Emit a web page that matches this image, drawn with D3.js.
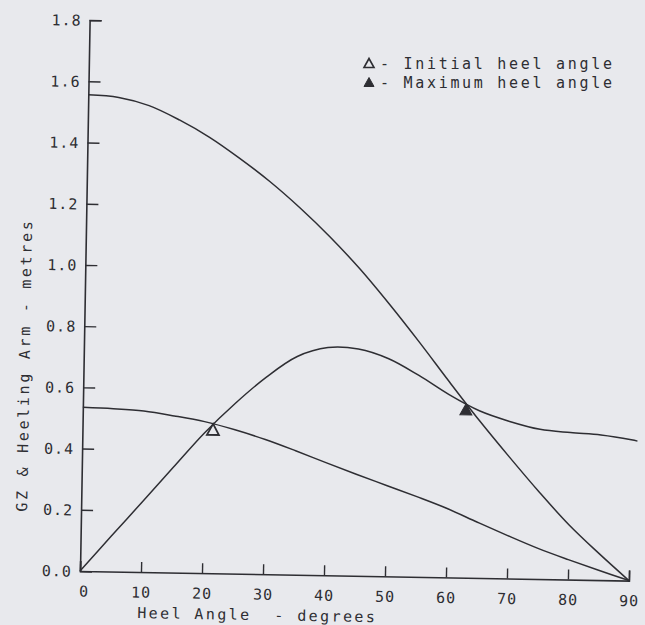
<!DOCTYPE html>
<html><head><meta charset="utf-8">
<script src="https://cdn.jsdelivr.net/npm/d3@7"></script>
<style>html,body{margin:0;padding:0;background:#e8e9ed;} svg{display:block}</style>
</head><body><svg id="c" width="645" height="625"></svg>
<script>
// ---- data ----
const heelAngles   = [0,5,10,15,20,25,30,35,40,45,50,55,60,65,70,75,80,85,90];
const heelArmHigh  = [1.556,1.549,1.524,1.479,1.424,1.357,1.283,1.199,1.106,1.003,0.888,0.766,0.639,0.515,0.398,0.285,0.179,0.087,0];
const heelArmLow   = [0.535,0.532,0.526,0.512,0.495,0.47,0.44,0.405,0.368,0.332,0.297,0.262,0.225,0.182,0.14,0.1,0.065,0.032,0];
const gzAngles     = [0,5,10,15,20,25,30,35,40,45,50,55,60,65,70,75,80,85,90,91];
const gzValues     = [0,0.115,0.229,0.344,0.458,0.557,0.644,0.713,0.744,0.741,0.711,0.658,0.597,0.546,0.513,0.489,0.480,0.474,0.460,0.456];
const initialHeel  = [21.4, 0.488];
const maximumHeel  = [62.8, 0.568];
const xTickValues  = [0,10,20,30,40,50,60,70,80,90];
const yTickValues  = [0,0.2,0.4,0.6,0.8,1.0,1.2,1.4,1.6,1.8];
const legendLabels = ["- Initial heel angle","- Maximum heel angle"];
const xTitle = "Heel Angle  - degrees";
const yTitle = "GZ & Heeling Arm - metres";

// ---- layout ----
const ox = 80, oy = 571;
const x = d3.scaleLinear().domain([0,90]).range([ox, 629]);
const y = d3.scaleLinear().domain([0,1.8]).range([oy, 20]);
const ink = "#2e2e33";
const font = "'DejaVu Sans Mono', 'Liberation Mono', monospace";

const svg = d3.select("#c");
const g = svg.append("g").attr("transform", `rotate(1,${ox},${oy})`);

// axes
const xAxis = d3.axisBottom(x).tickValues(xTickValues).tickSize(-10).tickPadding(12).tickFormat(d3.format("d"));
const yAxis = d3.axisLeft(y).tickValues(yTickValues).tickSize(-12).tickPadding(8).tickFormat(d3.format(".1f"));
const gx = g.append("g").attr("transform", `translate(0,${oy})`).call(xAxis);
const gy = g.append("g").attr("transform", `translate(${ox},0)`).call(yAxis);
[gx, gy].forEach(a => {
  a.select(".domain").attr("stroke", ink).attr("stroke-width", 1.6);
  a.selectAll(".tick line").attr("stroke", ink).attr("stroke-width", 1.4);
  a.selectAll(".tick text").attr("fill", ink).attr("font-family", font)
    .attr("font-size", 15).attr("letter-spacing", "1px");
});
gx.selectAll(".tick text").attr("dy", "0.9em").attr("dx", d => d === 0 ? 4 : 0);
gy.selectAll(".tick text").attr("dy", "0.35em");

// curves
const line = d3.line().curve(d3.curveCatmullRom.alpha(0.5)).x(d => x(d[0])).y(d => y(d[1]));
const series = [
  heelAngles.map((a,i) => [a, heelArmHigh[i]]),
  heelAngles.map((a,i) => [a, heelArmLow[i]]),
  gzAngles.map((a,i) => [a, gzValues[i]])
];
g.selectAll("path.curve").data(series).join("path").attr("class","curve")
  .attr("d", line).attr("fill","none").attr("stroke", ink).attr("stroke-width", 1.5);

// triangle markers (apex at intersection)
const tri = (cx, cy, w, h) => `M${cx},${cy} L${cx - w/2},${cy + h} L${cx + w/2},${cy + h} Z`;
g.append("path").attr("d", tri(x(initialHeel[0]), y(initialHeel[1]), 12, 11))
  .attr("fill","none").attr("stroke", ink).attr("stroke-width", 1.8).attr("stroke-linejoin","miter");
g.append("path").attr("d", tri(x(maximumHeel[0]), y(maximumHeel[1]), 12, 11))
  .attr("fill", ink).attr("stroke", ink).attr("stroke-width", 1);

// legend (kept level so the two rows do not collide)
const lg = svg.append("g").attr("transform", "translate(363,0)");
legendLabels.forEach((t, i) => {
  const by = 68.5 + i * 19;
  lg.append("path").attr("d", tri(6, by - 10, 10, 9))
    .attr("fill", i === 0 ? "none" : ink).attr("stroke", ink).attr("stroke-width", i === 0 ? 1.6 : 1);
  lg.append("text").attr("x", 17).attr("y", by).text(t)
    .attr("fill", ink).attr("font-family", font).attr("font-size", 15).attr("letter-spacing", "2.7px");
});

// axis titles
g.append("text").attr("x", 138).attr("y", 617).text(xTitle)
  .attr("fill", ink).attr("font-family", font).attr("font-size", 15).attr("letter-spacing", "2.4px")
  .attr("xml:space","preserve").style("white-space","pre");
g.append("text").attr("transform", "translate(26,366) rotate(-90)").attr("text-anchor","middle").text(yTitle)
  .attr("fill", ink).attr("font-family", font).attr("font-size", 15).attr("letter-spacing", "2.7px");
</script></body></html>
